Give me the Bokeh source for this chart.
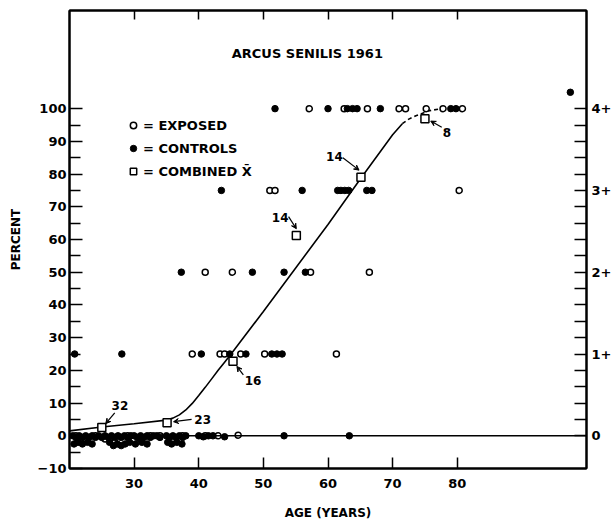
import math
from bokeh.plotting import figure
from bokeh.models import (LinearAxis, FixedTicker, Range1d, Label, Arrow, VeeHead,
                          Span, Legend, LegendItem)
from bokeh.embed import file_html
from bokeh.resources import INLINE

# ---------------- data ----------------
exposed_age = [57.1, 62.5, 66.1, 71.0, 72.0, 75.2, 77.8, 80.8,
               51.0, 51.8, 80.3,
               41.0, 45.2, 57.3, 66.4,
               39.0, 43.3, 44.0, 46.5, 50.2, 61.3,
               21.0, 22.5, 24.0, 25.5, 27.0, 29.0, 31.0, 32.5, 34.0, 36.0, 37.5, 41.0, 43.0, 46.1]
exposed_pct = [100, 100, 100, 100, 100, 100, 100, 100,
               75, 75, 75,
               50, 50, 50, 50,
               25, 25, 25, 25, 25, 25,
               0, -1, 0, -1, -2, 0, -1, 0, 0, -1, 0, 0, 0, 0.2]

control_age = [51.8, 60.0, 63.0, 63.8, 64.5, 68.1, 79.0, 79.8,
               43.5, 56.0, 61.5, 62.0, 62.6, 63.2, 66.0, 66.8,
               37.3, 48.3, 53.2, 56.5,
               20.8, 28.1, 40.4, 44.8, 47.3, 51.3, 52.1, 52.9,
               20.5, 21.0, 21.5, 22.0, 22.5, 23.0, 23.5, 24.0, 24.5, 25.0, 25.5, 26.0,
               26.5, 27.0, 27.5, 28.0, 28.5, 29.0, 29.5, 30.0, 30.5, 31.0, 31.5, 32.0,
               32.5, 33.0, 33.5, 34.0, 35.0, 35.5, 36.0, 36.5, 37.0, 37.5, 38.0,
               20.7, 21.3, 22.0, 22.8, 23.5, 26.2, 26.8, 27.4, 28.0, 28.6, 29.3, 30.2,
               31.2, 32.0, 35.2, 35.8, 36.6, 37.4,
               40.0, 40.7, 41.5, 42.2, 44.0, 53.2, 63.3,
               97.5]
control_pct = [100, 100, 100, 100, 100, 100, 100, 100,
               75, 75, 75, 75, 75, 75, 75, 75,
               50, 50, 50, 50,
               25, 25, 25, 25, 25, 25, 25, 25,
               0, -0.5, 0, -0.5, 0, -0.5, 0, -0.5, 0, -0.5, 0, -0.5,
               0, -0.5, 0, -0.5, 0, -0.5, 0, 0, -0.5, 0, -0.5, 0,
               -0.5, 0, 0, -0.5, 0, -0.5, 0, -0.5, 0, -0.5, 0,
               -2.5, -2, -2.5, -2, -2.5, -2, -3, -2.5, -3, -2.5, -2, -2.5,
               -2, -2.5, -2, -2.5, -2, -2.5,
               0, -0.3, 0, 0, -0.3, 0, 0,
               105]

combined_age = [25.0, 35.1, 45.3, 55.1, 65.1, 75.0]
combined_pct = [2.5, 4.0, 22.8, 61.2, 79.0, 96.9]
combined_n = ["32", "23", "16", "14", "14", "8"]

curve_age = [20, 25, 30, 35, 36, 37, 38, 39, 40, 41, 42, 43, 44, 45, 46, 50, 55, 60, 65, 70, 71.5]
curve_pct = [1.5, 2.7, 3.7, 4.8, 5.4, 6.4, 7.9, 9.9, 12.3, 14.8, 17.4, 20.0, 22.5, 25.0, 27.6,
             38.0, 51.3, 64.6, 78.5, 92.0, 95.4]
dash_age = [71.5, 72.5, 73.6, 75.5, 77.5]
dash_pct = [95.4, 96.8, 97.8, 99.3, 100.0]

x_ticks = [30, 40, 50, 60, 70, 80]
y_ticks = [-10, 0, 10, 20, 30, 40, 50, 60, 70, 80, 90, 100]
y_minor = [-5, 5, 15, 25, 35, 45, 55, 65, 75, 85, 95]
grade_ticks = [0, 25, 50, 75, 100]
grade_labels = ["0", "1+", "2+", "3+", "4+"]
grade_minor = [5, 10, 15, 20, 30, 35, 40, 45, 55, 60, 65, 70, 80, 85, 90, 95]

# annotation positions (label centre, arrow start, arrow end)
note_xy = [(27.8, 9.4), (40.6, 4.9), (48.4, 17.0), (52.6, 66.8), (61.0, 85.3), (78.4, 92.8)]
note_from = [(27.0, 7.0), (38.9, 5.0), (46.9, 18.6), (53.9, 67.0), (62.3, 85.0), (77.6, 94.3)]
note_to = [(25.6, 3.7), (36.1, 4.3), (45.9, 21.2), (55.1, 63.3), (64.8, 81.2), (75.9, 96.2)]

FONT = "DejaVu Sans"

p = figure(width=614, height=526, output_backend="svg", toolbar_location=None,
           x_range=Range1d(20, 100), y_range=Range1d(-10, 130),
           min_border_left=69, min_border_right=24, min_border_top=10, min_border_bottom=58,
           x_axis_location=None, y_axis_location=None)
p.grid.visible = False
p.outline_line_color = "black"
p.outline_line_width = 2
p.background_fill_color = "white"
p.border_fill_color = "white"


def style_axis(ax, tick_len=11, minor_len=10):
    ax.axis_line_color = "black"
    ax.axis_line_width = 2
    ax.major_tick_line_color = "black"
    ax.major_tick_line_width = 1.5
    ax.minor_tick_line_color = "black"
    ax.minor_tick_line_width = 1.5
    ax.major_tick_in = tick_len
    ax.major_tick_out = 0
    ax.minor_tick_in = minor_len
    ax.minor_tick_out = 0
    ax.major_label_text_font = FONT
    ax.major_label_text_font_style = "bold"
    ax.major_label_text_font_size = "13px"
    ax.major_label_text_color = "black"
    ax.axis_label_text_font = FONT
    ax.axis_label_text_font_style = "bold"
    ax.axis_label_text_font_size = "12px"
    ax.axis_label_text_color = "black"


xb = LinearAxis(ticker=FixedTicker(ticks=x_ticks, minor_ticks=[]), axis_label="AGE (YEARS)")
style_axis(xb, 11, 0)
xb.major_label_standoff = 10
xb.axis_label_standoff = 15
p.add_layout(xb, "below")

xt = LinearAxis(ticker=FixedTicker(ticks=x_ticks, minor_ticks=[]),
                major_label_overrides={t: "" for t in x_ticks})
style_axis(xt, 9, 0)
xt.major_label_standoff = 0
p.add_layout(xt, "above")

yl = LinearAxis(ticker=FixedTicker(ticks=y_ticks, minor_ticks=y_minor), axis_label="PERCENT")
style_axis(yl, 13, 11)
yl.major_label_standoff = 3
yl.axis_label_standoff = 12
p.add_layout(yl, "left")

yr = LinearAxis(ticker=FixedTicker(ticks=grade_ticks, minor_ticks=grade_minor),
                major_label_overrides={t: s for t, s in zip(grade_ticks, grade_labels)})
style_axis(yr, 12, 12)
yr.major_label_standoff = 5
p.add_layout(yr, "right")

# zero line
p.add_layout(Span(location=0, dimension="width", line_color="black", line_width=1.5))

# curve
p.line(curve_age, curve_pct, line_color="black", line_width=1.6)
p.line(dash_age, dash_pct, line_color="black", line_width=1.6, line_dash="4 3")

r_exp = p.scatter(exposed_age, exposed_pct, marker="circle", size=6,
                  fill_color="white", line_color="black", line_width=1.5)
r_ctl = p.scatter(control_age, control_pct, marker="circle", size=6.5,
                  fill_color="black", line_color="black", line_width=1)
r_cmb = p.scatter(combined_age, combined_pct, marker="square", size=8,
                  fill_color="white", line_color="black", line_width=1.5)

for (tx, ty), (fx, fy), (ex, ey), n in zip(note_xy, note_from, note_to, combined_n):
    p.add_layout(Label(x=tx, y=ty, text=n, text_align="center", text_baseline="middle",
                       text_font=FONT, text_font_style="bold", text_font_size="12px",
                       text_color="black"))
    p.add_layout(Arrow(x_start=fx, y_start=fy, x_end=ex, y_end=ey, line_width=1.2,
                       line_color="black",
                       end=VeeHead(size=5, line_color="black", fill_color="black", line_width=1)))

p.add_layout(Label(x=57.5, y=117, text="ARCUS  SENILIS  1961", text_align="center",
                   text_baseline="middle", text_font=FONT, text_font_style="bold",
                   text_font_size="13px", text_color="black"))

legend = Legend(items=[LegendItem(label="= EXPOSED", renderers=[r_exp]),
                       LegendItem(label="= CONTROLS", renderers=[r_ctl]),
                       LegendItem(label="= COMBINED X\u0304", renderers=[r_cmb])],
                location=(56, 287), glyph_width=16, glyph_height=20, spacing=3,
                padding=0, margin=0, label_standoff=2,
                border_line_alpha=0, background_fill_alpha=0,
                label_text_font=FONT, label_text_font_style="bold",
                label_text_font_size="13px", label_text_color="black")
p.add_layout(legend)

open("out.html", "w").write(file_html(p, INLINE))
